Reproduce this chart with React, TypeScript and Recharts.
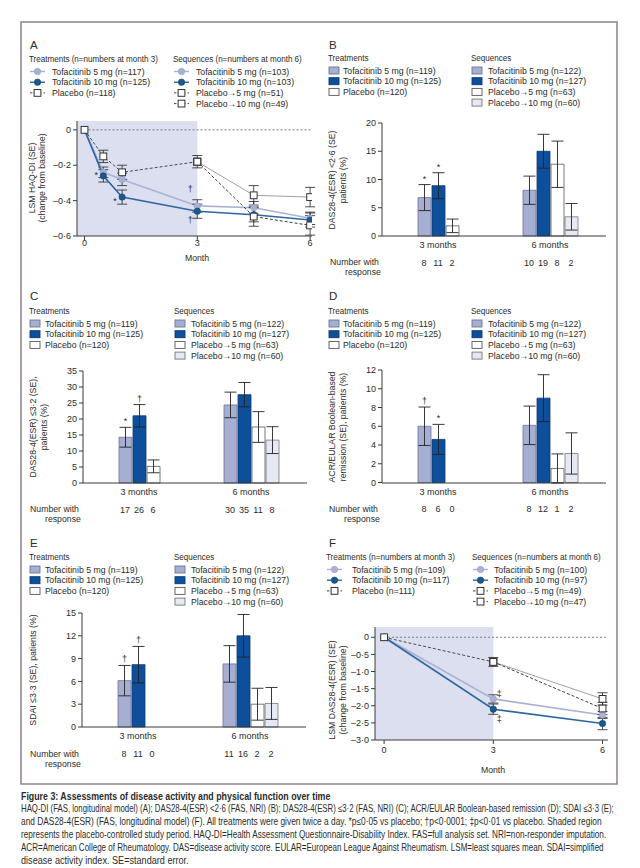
import React from 'react';
import {
  ComposedChart,
  Line,
  Bar,
  Scatter,
  XAxis,
  YAxis,
  ErrorBar,
  ReferenceArea,
  ReferenceLine,
  LabelList,
  Cell,
} from 'recharts';

const FONT = "'Liberation Sans', Arial, sans-serif";
const INK = '#2b2b2b';
const AXIS = '#3a3a3a';
const SHADE = '#dcdff0';
const SX = 0.89; // horizontal squeeze, the original uses a narrow face

// ---------- A: HAQ-DI, LSM change from baseline ----------
const haqMonths = [0, 0.5, 1, 3, 4.5, 6];
const haqTofa5 = [0, -0.24, -0.28, -0.43, -0.44, -0.5];
const haqTofa5Se = [null, 0.03, 0.035, 0.035, 0.035, 0.035];
const haqTofa5Marks = ['', '', '', '†', '', ''];
const haqTofa10 = [0, -0.26, -0.38, -0.46, -0.48, -0.51];
const haqTofa10Se = [null, 0.035, 0.04, 0.04, 0.04, 0.04];
const haqTofa10Marks = ['', '*', '*', '†', '', ''];
const haqPlaceboMonths = [0, 0.5, 1, 3];
const haqPlacebo = [0, -0.15, -0.24, -0.18];
const haqPlaceboSe = [null, 0.035, 0.04, 0.035];
const haqSeqMonths = [3, 4.5, 6];
const haqPl5 = [-0.18, -0.37, -0.38];
const haqPl5Se = [null, 0.055, 0.055];
const haqPl10 = [-0.18, -0.49, -0.54];
const haqPl10Se = [null, 0.055, 0.055];
const haqTicks = [0, -0.2, -0.4, -0.6];

// ---------- F: DAS28-4(ESR), LSM change from baseline ----------
const dasMonths = [0, 3, 6];
const dasTofa5 = [0, -1.8, -2.27];
const dasTofa5Se = [null, 0.12, 0.1];
const dasTofa5Marks = ['', '‡', ''];
const dasTofa10 = [0, -2.1, -2.52];
const dasTofa10Se = [null, 0.15, 0.18];
const dasTofa10Marks = ['', '‡', ''];
const dasPlaceboMonths = [0, 3];
const dasPlacebo = [0, -0.72];
const dasPlaceboSe = [null, 0.13];
const dasSeqMonths = [3, 6];
const dasPl5 = [-0.72, -1.8];
const dasPl5Se = [null, 0.18];
const dasPl10 = [-0.72, -2.08];
const dasPl10Se = [null, 0.18];
const dasTicks = [0, -0.5, -1, -1.5, -2, -2.5, -3];

// ---------- bar panels ----------
const groupLabels = ['3 months', '6 months'];

// B: DAS28-4(ESR) <2·6
const bVal3 = [6.8, 8.9, 1.8];
const bSe3 = [2.3, 2.3, 1.2];
const bN3 = [8, 11, 2];
const bMark3 = ['*', '*', ''];
const bVal6 = [8.1, 15.0, 12.7, 3.4];
const bSe6 = [2.5, 3.0, 4.1, 2.35];
const bN6 = [10, 19, 8, 2];
const bTicks = [0, 5, 10, 15, 20];

// C: DAS28-4(ESR) ≤3·2
const cVal3 = [14.3, 21.0, 5.2];
const cSe3 = [3.1, 3.5, 2.0];
const cN3 = [17, 26, 6];
const cMark3 = ['*', '†', ''];
const cVal6 = [24.4, 27.6, 17.5, 13.4];
const cSe6 = [4.0, 3.8, 4.8, 4.2];
const cN6 = [30, 35, 11, 8];
const cTicks = [0, 5, 10, 15, 20, 25, 30, 35];

// D: ACR/EULAR Boolean-based remission
const dVal3 = [6.0, 4.6, 0];
const dSe3 = [2.05, 1.6, null];
const dN3 = [8, 6, 0];
const dMark3 = ['†', '*', ''];
const dVal6 = [6.1, 9.0, 1.5, 3.1];
const dSe6 = [2.05, 2.5, 1.55, 2.2];
const dN6 = [8, 12, 1, 2];
const dTicks = [0, 2, 4, 6, 8, 10, 12];

// E: SDAI ≤3·3
const eVal3 = [6.1, 8.2, 0];
const eSe3 = [2.0, 2.4, null];
const eN3 = [8, 11, 0];
const eMark3 = ['†', '†', ''];
const eVal6 = [8.3, 12.0, 3.0, 3.1];
const eSe6 = [2.4, 2.8, 2.1, 2.1];
const eN6 = [11, 16, 2, 2];
const eTicks = [0, 3, 6, 9, 12, 15];

// ---------- legends ----------
const haqTreatLabels = ['Tofacitinib 5 mg (n=117)', 'Tofacitinib 10 mg (n=125)', 'Placebo (n=118)'];
const haqSeqLabels = ['Tofacitinib 5 mg (n=103)', 'Tofacitinib 10 mg (n=103)', 'Placebo→5 mg (n=51)', 'Placebo→10 mg (n=49)'];
const dasTreatLabels = ['Tofacitinib 5 mg (n=109)', 'Tofacitinib 10 mg (n=117)', 'Placebo (n=111)'];
const dasSeqLabels = ['Tofacitinib 5 mg (n=100)', 'Tofacitinib 10 mg (n=97)', 'Placebo→5 mg (n=49)', 'Placebo→10 mg (n=47)'];
const barTreatLabels = ['Tofacitinib 5 mg (n=119)', 'Tofacitinib 10 mg (n=125)', 'Placebo (n=120)'];
const barSeqLabels = ['Tofacitinib 5 mg (n=122)', 'Tofacitinib 10 mg (n=127)', 'Placebo→5 mg (n=63)', 'Placebo→10 mg (n=60)'];

const captionTitle = 'Figure 3: Assessments of disease activity and physical function over time';
const captionLines = [
  'HAQ-DI (FAS, longitudinal model) (A); DAS28-4(ESR) <2·6 (FAS, NRI) (B); DAS28-4(ESR) ≤3·2 (FAS, NRI) (C); ACR/EULAR Boolean-based remission (D); SDAI ≤3·3 (E);',
  'and DAS28-4(ESR) (FAS, longitudinal model) (F). All treatments were given twice a day. *p≤0·05 vs placebo; †p<0·0001; ‡p<0·01 vs placebo. Shaded region',
  'represents the placebo-controlled study period. HAQ-DI=Health Assessment Questionnaire-Disability Index. FAS=full analysis set. NRI=non-responder imputation.',
  'ACR=American College of Rheumatology. DAS=disease activity score. EULAR=European League Against Rheumatism. LSM=least squares mean. SDAI=simplified',
  'disease activity index. SE=standard error.',
];
// printed widths of the caption lines, px
const captionWidths = [594, 582, 586, 584, 168];

type Kind = 't5' | 't10' | 'pla' | 'pl5' | 'pl10';
const treatKinds: Kind[] = ['t5', 't10', 'pla'];
const seqKinds: Kind[] = ['t5', 't10', 'pl5', 'pl10'];

const LINE_STYLE: Record<Kind, { stroke: string; width: number; dash?: string }> = {
  t5: { stroke: '#a9b2d4', width: 1.6 },
  t10: { stroke: '#2f65a0', width: 1.6 },
  pla: { stroke: '#4a4a4a', width: 1, dash: '3 2' },
  pl5: { stroke: '#a0a0a0', width: 1 },
  pl10: { stroke: '#3d3d3d', width: 1, dash: '3 2' },
};

const BAR_STYLE: Record<Kind, { fill: string; stroke: string }> = {
  t5: { fill: '#a6aed2', stroke: '#6e7596' },
  t10: { fill: '#0e4f9c', stroke: '#0a3a74' },
  pla: { fill: '#ffffff', stroke: '#555555' },
  pl5: { fill: '#ffffff', stroke: '#555555' },
  pl10: { fill: '#e6e8f3', stroke: '#777777' },
};

// layout
const YW = 34;
const MT = 8;
const MR = 4;
const GROUP_CENTER = [4, 12];
const TICK = { fontSize: 9, fill: INK, fontFamily: FONT };

const lancet = (v: number, digits: number) =>
  v === 0 ? '0' : `${v < 0 ? '–' : ''}${Math.abs(v).toFixed(digits).replace('.', '·')}`;

// natural text width, so a line can be squeezed to a given printed width
let measureCtx: CanvasRenderingContext2D | null = null;
const measure = (s: string, size: number, weight = 'normal') => {
  if (!measureCtx) measureCtx = document.createElement('canvas').getContext('2d');
  if (!measureCtx) return 0;
  measureCtx.font = `${weight} ${size}px 'Liberation Sans', Arial, sans-serif`;
  return measureCtx.measureText(s).width;
};

const box = (p: any) => {
  const v = p.viewBox || {};
  return {
    x: v.x ?? p.x,
    y: v.y ?? p.y,
    width: v.width ?? p.width ?? 0,
    height: v.height ?? p.height ?? 0,
  };
};

function Marker({ cx, cy, kind }: { cx: number; cy: number; kind: Kind }) {
  if (kind === 't5') return <circle cx={cx} cy={cy} r={3.2} fill="#a9b2d4" stroke="#96a0c6" strokeWidth={0.6} />;
  if (kind === 't10') return <circle cx={cx} cy={cy} r={3.2} fill="#1b588c" stroke="#144672" strokeWidth={0.6} />;
  return <rect x={cx - 3.4} y={cy - 3.4} width={6.8} height={6.8} fill="#fff" stroke="#333" strokeWidth={1} />;
}

// squeezed text, also used inside the charts
const Txt = ({
  x,
  y,
  children,
  size = 9.8,
  anchor = 'start',
  weight,
  rotate,
  sx = SX,
  len,
}: {
  x: number;
  y: number;
  children: React.ReactNode;
  size?: number;
  anchor?: 'start' | 'middle' | 'end';
  weight?: string;
  rotate?: boolean;
  sx?: number;
  len?: number;
}) => {
  let scale = sx;
  if (len && typeof children === 'string') {
    const w = measure(children, size, weight || 'normal');
    if (w > 0) scale = len / w;
  }
  return (
    <text
      x={0}
      y={0}
      fontSize={size}
      textAnchor={anchor}
      dominantBaseline="central"
      fontWeight={weight}
      fontFamily={FONT}
      fill={INK}
      transform={`translate(${x} ${y})${rotate ? ' rotate(-90)' : ''} scale(${scale} 1)`}
    >
      {children}
    </text>
  );
};

type Series = {
  kind: Kind;
  months: number[];
  values: number[];
  se: (number | null)[];
  marks?: string[];
  markOffset?: [number, number][];
};

const toPoints = (s: Series) =>
  s.months.map((m, i) => ({ month: m, value: s.values[i], se: s.se[i], mark: s.marks ? s.marks[i] : '' }));

type Geo = { pl: number; pr: number; pt: number; pb: number };

function LinePanel({
  geo,
  xDomain,
  yDomain,
  yTicks,
  digits,
  series,
  xTickMargin,
}: {
  geo: Geo;
  xDomain: [number, number];
  yDomain: [number, number];
  yTicks: number[];
  digits: number;
  series: Series[];
  xTickMargin: number;
}) {
  const XH = 30;
  const W = geo.pr - geo.pl + YW + MR;
  const H = geo.pb - geo.pt + MT + XH;
  return (
    <div style={{ position: 'absolute', left: geo.pl - YW, top: geo.pt - MT }}>
      <ComposedChart width={W} height={H} margin={{ top: MT, right: MR, bottom: 0, left: 0 }}>
        <ReferenceArea x1={xDomain[0]} x2={3} y1={yDomain[0]} y2={yDomain[1]} fill={SHADE} fillOpacity={1} stroke="none" />
        <ReferenceLine
          segment={[{ x: 0, y: 0 }, { x: xDomain[1], y: 0 }]}
          stroke="#7a7a7a"
          strokeDasharray="2 2"
        />
        <XAxis
          type="number"
          dataKey="month"
          domain={xDomain}
          ticks={[0, 3, 6]}
          allowDataOverflow
          interval={0}
          height={XH}
          tickSize={4}
          tickMargin={xTickMargin}
          tick={TICK}
          stroke={AXIS}
        />
        <YAxis
          type="number"
          domain={yDomain}
          ticks={yTicks}
          allowDataOverflow
          interval={0}
          width={YW}
          tickSize={4}
          tickMargin={2}
          tick={TICK}
          stroke={AXIS}
          tickFormatter={(v: number) => lancet(v, digits)}
        />
        {series.map((s, si) => {
          const st = LINE_STYLE[s.kind];
          return (
            <Line
              key={si}
              data={toPoints(s)}
              dataKey="value"
              stroke={st.stroke}
              strokeWidth={st.width}
              strokeDasharray={st.dash}
              isAnimationActive={false}
              activeDot={false}
              dot={(p: any) => <Marker key={`d${si}-${p.index}`} cx={p.cx} cy={p.cy} kind={s.kind} />}
            >
              <ErrorBar dataKey="se" width={5} stroke="#222" strokeWidth={0.8} direction="y" isAnimationActive={false} />
              {s.marks && (
                <LabelList
                  dataKey="mark"
                  content={(p: any) => {
                    if (!p.value) return null;
                    const b = box(p);
                    const off = (s.markOffset && s.markOffset[p.index]) || [0, 0];
                    return (
                      <Txt x={b.x + off[0]} y={b.y + off[1]} size={9} anchor="middle" sx={1}>
                        {p.value}
                      </Txt>
                    );
                  }}
                />
              )}
            </Line>
          );
        })}
      </ComposedChart>
    </div>
  );
}

function BarPanel({
  geo,
  yMax,
  yTicks,
  v3,
  se3,
  n3,
  m3,
  v6,
  se6,
  n6,
}: {
  geo: Geo;
  yMax: number;
  yTicks: number[];
  v3: number[];
  se3: (number | null)[];
  n3: number[];
  m3: string[];
  v6: number[];
  se6: (number | null)[];
  n6: number[];
}) {
  const XH = 40;
  const rows = [
    ...v3.map((v, i) => ({
      x: GROUP_CENTER[0] + i - (v3.length - 1) / 2,
      value: v,
      base: 0,
      se: se3[i],
      n: n3[i],
      mark: m3[i],
      kind: treatKinds[i],
    })),
    ...v6.map((v, i) => ({
      x: GROUP_CENTER[1] + i - (v6.length - 1) / 2,
      value: v,
      base: 0,
      se: se6[i],
      n: n6[i],
      mark: '',
      kind: seqKinds[i],
    })),
  ];
  const W = geo.pr - geo.pl + YW + MR;
  const H = geo.pb - geo.pt + MT + XH;

  // responder counts sit on a row below the category labels
  const renderN = (p: any) => (
    <Txt x={p.cx} y={p.cy + 26} anchor="middle" size={9.8} sx={0.92}>
      {p.payload.n}
    </Txt>
  );
  const renderMark = (p: any) => {
    if (!p.value) return null;
    const b = box(p);
    const r = rows[p.index];
    const pxPerUnit = r.value ? b.height / r.value : 0;
    const top = b.y - (r.se || 0) * pxPerUnit;
    return (
      <Txt x={b.x + b.width / 2} y={top - 6} anchor="middle" size={9} sx={1}>
        {p.value}
      </Txt>
    );
  };

  return (
    <div style={{ position: 'absolute', left: geo.pl - YW, top: geo.pt - MT }}>
      <ComposedChart width={W} height={H} data={rows} margin={{ top: MT, right: MR, bottom: 0, left: 0 }}>
        <XAxis
          type="number"
          dataKey="x"
          domain={[0, 16]}
          ticks={GROUP_CENTER}
          interval={0}
          height={XH}
          tickLine={false}
          tickSize={4}
          tickMargin={2}
          tick={TICK}
          stroke={AXIS}
          tickFormatter={(v: number) => (v === GROUP_CENTER[0] ? groupLabels[0] : groupLabels[1])}
        />
        <YAxis
          type="number"
          domain={[0, yMax]}
          ticks={yTicks}
          interval={0}
          width={YW}
          tickSize={4}
          tickMargin={2}
          tick={TICK}
          stroke={AXIS}
        />
        <Bar dataKey="value" barSize={13} isAnimationActive={false}>
          {rows.map((r, i) => (
            <Cell key={i} fill={BAR_STYLE[r.kind].fill} stroke={BAR_STYLE[r.kind].stroke} strokeWidth={0.8} />
          ))}
          <ErrorBar dataKey="se" width={6} stroke="#222" strokeWidth={0.9} direction="y" isAnimationActive={false} />
          <LabelList dataKey="mark" content={renderMark} />
        </Bar>
        <Scatter dataKey="base" isAnimationActive={false} shape={renderN} />
      </ComposedChart>
    </div>
  );
}

function Legend({
  x,
  textX,
  y,
  title,
  labels,
  kinds,
  bars,
}: {
  x: number;
  textX: number;
  y: number;
  title: string;
  labels: string[];
  kinds: Kind[];
  bars?: boolean;
}) {
  return (
    <g>
      <Txt x={x - 1} y={y} size={9.5} sx={0.85}>
        {title}
      </Txt>
      {labels.map((lab, i) => {
        const yy = y + 12.5 + 10.7 * i;
        const k = kinds[i];
        let sym;
        if (bars) {
          sym = <rect x={x} y={yy - 3.5} width={10} height={7} fill={BAR_STYLE[k].fill} stroke={BAR_STYLE[k].stroke} strokeWidth={0.9} />;
        } else {
          const circle = k === 't5' || k === 't10';
          sym = (
            <g>
              <line
                x1={x}
                x2={x + 15}
                y1={yy}
                y2={yy}
                stroke={circle ? LINE_STYLE[k].stroke : '#444'}
                strokeWidth={circle ? 1.4 : 1}
                strokeDasharray={circle ? undefined : '2.5 2'}
              />
              <Marker cx={x + 7.5} cy={yy} kind={k} />
            </g>
          );
        }
        return (
          <g key={i}>
            {sym}
            <Txt x={textX} y={yy}>
              {lab}
            </Txt>
          </g>
        );
      })}
    </g>
  );
}

const haqSeries: Series[] = [
  { kind: 't5', months: haqMonths, values: haqTofa5, se: haqTofa5Se, marks: haqTofa5Marks, markOffset: [[0, 0], [0, 0], [0, 0], [-7, -17]] },
  {
    kind: 't10',
    months: haqMonths,
    values: haqTofa10,
    se: haqTofa10Se,
    marks: haqTofa10Marks,
    markOffset: [[0, 0], [-7, -1], [-7, 4], [-7, 9]],
  },
  { kind: 'pla', months: haqPlaceboMonths, values: haqPlacebo, se: haqPlaceboSe },
  { kind: 'pl5', months: haqSeqMonths, values: haqPl5, se: haqPl5Se },
  { kind: 'pl10', months: haqSeqMonths, values: haqPl10, se: haqPl10Se },
];

const dasSeries: Series[] = [
  { kind: 't5', months: dasMonths, values: dasTofa5, se: dasTofa5Se, marks: dasTofa5Marks, markOffset: [[0, 0], [6, -5]] },
  { kind: 't10', months: dasMonths, values: dasTofa10, se: dasTofa10Se, marks: dasTofa10Marks, markOffset: [[0, 0], [6, 10]] },
  { kind: 'pla', months: dasPlaceboMonths, values: dasPlacebo, se: dasPlaceboSe },
  { kind: 'pl5', months: dasSeqMonths, values: dasPl5, se: dasPl5Se },
  { kind: 'pl10', months: dasSeqMonths, values: dasPl10, se: dasPl10Se },
];

export default function App() {
  return (
    <div
      style={{
        position: 'absolute',
        left: 0,
        top: 0,
        width: 640,
        height: 868,
        background: '#fff',
        overflow: 'hidden',
        fontFamily: FONT,
      }}
    >
      <LinePanel
        geo={{ pl: 77, pr: 312, pt: 121, pb: 236 }}
        xDomain={[-0.2, 6.05]}
        yDomain={[-0.6, 0.05]}
        yTicks={haqTicks}
        digits={1}
        series={haqSeries}
        xTickMargin={0}
      />
      <LinePanel
        geo={{ pl: 375, pr: 608, pt: 627, pb: 740 }}
        xDomain={[-0.25, 6.15]}
        yDomain={[-3, 0.3]}
        yTicks={dasTicks}
        digits={1}
        series={dasSeries}
        xTickMargin={3}
      />
      <BarPanel geo={{ pl: 382, pr: 606, pt: 123, pb: 236 }} yMax={20} yTicks={bTicks} v3={bVal3} se3={bSe3} n3={bN3} m3={bMark3} v6={bVal6} se6={bSe6} n6={bN6} />
      <BarPanel geo={{ pl: 83, pr: 307, pt: 371, pb: 483 }} yMax={35} yTicks={cTicks} v3={cVal3} se3={cSe3} n3={cN3} m3={cMark3} v6={cVal6} se6={cSe6} n6={cN6} />
      <BarPanel geo={{ pl: 382, pr: 606, pt: 370, pb: 483 }} yMax={12} yTicks={dTicks} v3={dVal3} se3={dSe3} n3={dN3} m3={dMark3} v6={dVal6} se6={dSe6} n6={dN6} />
      <BarPanel geo={{ pl: 82, pr: 306, pt: 613, pb: 727 }} yMax={15} yTicks={eTicks} v3={eVal3} se3={eSe3} n3={eN3} m3={eMark3} v6={eVal6} se6={eSe6} n6={eN6} />

      <svg
        width={640}
        height={868}
        style={{ position: 'absolute', left: 0, top: 0, pointerEvents: 'none', fontFamily: FONT }}
      >
        <rect x={21} y={22} width={596} height={762} fill="none" stroke="#8c8189" strokeWidth={1.5} />

        {/* panel letters */}
        <Txt x={30} y={45} size={11.5} sx={1}>A</Txt>
        <Txt x={329} y={45} size={11.5} sx={1}>B</Txt>
        <Txt x={30} y={296} size={11.5} sx={1}>C</Txt>
        <Txt x={329} y={296} size={11.5} sx={1}>D</Txt>
        <Txt x={30} y={543} size={11.5} sx={1}>E</Txt>
        <Txt x={329} y={543} size={11.5} sx={1}>F</Txt>

        {/* legends */}
        <Legend x={30} textX={52} y={59} title="Treatments (n=numbers at month 3)" labels={haqTreatLabels} kinds={treatKinds} />
        <Legend x={174} textX={196} y={59} title="Sequences (n=numbers at month 6)" labels={haqSeqLabels} kinds={seqKinds} />
        <Legend x={329} textX={343} y={58} title="Treatments" labels={barTreatLabels} kinds={treatKinds} bars />
        <Legend x={472} textX={488} y={58} title="Sequences" labels={barSeqLabels} kinds={seqKinds} bars />
        <Legend x={30} textX={45} y={311} title="Treatments" labels={barTreatLabels} kinds={treatKinds} bars />
        <Legend x={175} textX={191} y={311} title="Sequences" labels={barSeqLabels} kinds={seqKinds} bars />
        <Legend x={329} textX={343} y={311} title="Treatments" labels={barTreatLabels} kinds={treatKinds} bars />
        <Legend x={472} textX={488} y={311} title="Sequences" labels={barSeqLabels} kinds={seqKinds} bars />
        <Legend x={30} textX={45} y={557} title="Treatments" labels={barTreatLabels} kinds={treatKinds} bars />
        <Legend x={175} textX={191} y={557} title="Sequences" labels={barSeqLabels} kinds={seqKinds} bars />
        <Legend x={327} textX={352} y={557} title="Treatments (n=numbers at month 3)" labels={dasTreatLabels} kinds={treatKinds} />
        <Legend x={473} textX={494} y={557} title="Sequences (n=numbers at month 6)" labels={dasSeqLabels} kinds={seqKinds} />

        {/* axis titles */}
        <Txt x={32} y={178} anchor="middle" rotate>LSM HAQ-DI (SE)</Txt>
        <Txt x={42} y={178} anchor="middle" rotate>(change from baseline)</Txt>
        <Txt x={197} y={258} anchor="middle">Month</Txt>

        <Txt x={332} y={180} anchor="middle" rotate>DAS28-4(ESR) &lt;2·6 (SE)</Txt>
        <Txt x={343} y={180} anchor="middle" rotate>patients (%)</Txt>

        <Txt x={33} y={427} anchor="middle" rotate>DAS28-4(ESR) ≤3·2 (SE),</Txt>
        <Txt x={44} y={427} anchor="middle" rotate>patients (%)</Txt>

        <Txt x={332} y={427} anchor="middle" rotate>ACR/EULAR Boolean-based</Txt>
        <Txt x={343} y={427} anchor="middle" rotate>remission (SE), patients (%)</Txt>

        <Txt x={33} y={670} anchor="middle" rotate>SDAI ≤3·3 (SE), patients (%)</Txt>

        <Txt x={332} y={690} anchor="middle" rotate>LSM DAS28-4(ESR) (SE)</Txt>
        <Txt x={343} y={690} anchor="middle" rotate>(change from baseline)</Txt>
        <Txt x={493} y={770} anchor="middle">Month</Txt>

        {/* responder rows */}
        <Txt x={330} y={262}>Number with</Txt>
        <Txt x={345} y={272}>response</Txt>
        <Txt x={30} y={509}>Number with</Txt>
        <Txt x={45} y={519}>response</Txt>
        <Txt x={329} y={509}>Number with</Txt>
        <Txt x={344} y={519}>response</Txt>
        <Txt x={30} y={754}>Number with</Txt>
        <Txt x={45} y={764}>response</Txt>

        {/* caption */}
        <Txt x={21} y={796} size={10} weight="bold" len={310}>
          {captionTitle}
        </Txt>
        {captionLines.map((line, i) => (
          <Txt key={i} x={21} y={809 + 12.9 * i} size={10} len={captionWidths[i]}>
            {line}
          </Txt>
        ))}
      </svg>
    </div>
  );
}
